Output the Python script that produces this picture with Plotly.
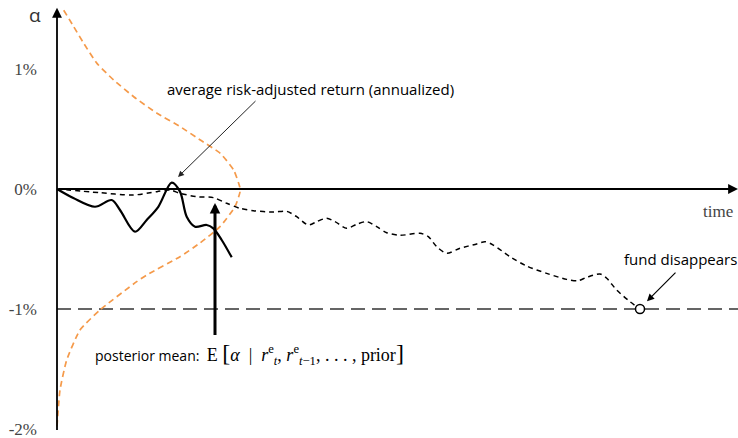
import plotly.graph_objects as go

# Realised average risk-adjusted return (solid, wiggly)
avg_t = [0, 1.63, 3.8, 5.47, 6.3, 7.8, 8.97, 10.13, 11.47, 12.3, 12.97, 13.8, 14.97, 15.63, 16.47, 17.47]
avg_a = [0, -0.075, -0.148, -0.092, -0.175, -0.356, -0.258, -0.148, 0.053, -0.022, -0.231, -0.314, -0.30, -0.328, -0.425, -0.569]

# Posterior mean path (dashed) until the fund disappears
post_t = [0, 4.3, 7.6, 10.0, 11.3, 12.3, 13.97, 15.63, 16.97, 18.3, 19.63, 21.63, 22.97, 23.97, 25.13,
          25.97, 26.97, 27.8, 28.97, 29.97, 30.97, 31.97, 32.97, 34.3, 36.3, 37.13, 37.97, 38.97, 40.3,
          41.97, 42.8, 43.63, 45.3, 46.97, 48.97, 50.97, 52.13, 52.97, 54.3, 54.97, 55.97, 57.3, 58.3]
post_a = [0, -0.031, -0.05, -0.022, -0.008, -0.036, -0.064, -0.072, -0.119, -0.161, -0.181, -0.192, -0.186, -0.231, -0.30,
          -0.272, -0.244, -0.272, -0.328, -0.294, -0.272, -0.314, -0.364, -0.386, -0.369, -0.397, -0.481, -0.536, -0.494,
          -0.458, -0.439, -0.467, -0.564, -0.642, -0.703, -0.753, -0.764, -0.736, -0.708, -0.744, -0.842, -0.939, -1.0]

# Prior density drawn sideways along the alpha axis
prior_dens = [0.67, 1.67, 2.67, 4.0, 5.67, 7.67, 10.0, 12.33, 14.33, 16.33, 17.67, 18.27,
              18.3, 17.8, 16.3, 14.3, 12.3, 8.97, 7.97, 4.3, 2.3, 0.97, 0.3, 0.0]
prior_a = [1.49, 1.353, 1.214, 1.047, 0.908, 0.769, 0.631, 0.519, 0.408, 0.297, 0.158, 0.019,
           -0.025, -0.148, -0.314, -0.45, -0.564, -0.717, -0.772, -1.008, -1.175, -1.425, -1.675, -1.98]

# Survival threshold and axis ticks
threshold = -1.0
tick_vals = [1, 0, -1, -2]
tick_text = ["1%", "0%", "-1%", "-2%"]

x_end = 68.1
y_top = 1.51
y_bot = -2.02

SANS = "Open Sans"
SERIF = "Liberation Serif"
ORANGE = "#F59A4A"

fig = go.Figure()

fig.add_trace(go.Scatter(x=[0, x_end], y=[threshold, threshold], mode="lines",
                         line=dict(color="#333333", width=1.5, dash="14px,7px"),
                         hoverinfo="skip", showlegend=False))
fig.add_trace(go.Scatter(x=prior_dens, y=prior_a, mode="lines",
                         line=dict(color=ORANGE, width=1.7, dash="6px,4px", shape="spline", smoothing=0.5),
                         showlegend=False))
fig.add_trace(go.Scatter(x=post_t, y=post_a, mode="lines",
                         line=dict(color="black", width=1.5, dash="5px,4px", shape="spline", smoothing=0.8),
                         showlegend=False))
fig.add_trace(go.Scatter(x=avg_t, y=avg_a, mode="lines",
                         line=dict(color="black", width=2.2, shape="spline", smoothing=0.9),
                         showlegend=False))
fig.add_trace(go.Scatter(x=[post_t[-1]], y=[threshold], mode="markers",
                         marker=dict(size=9, color="white", line=dict(color="black", width=1.5)),
                         showlegend=False))

ann = []
# axis arrows
ann.append(dict(x=x_end, y=0, ax=0, ay=0, xref="x", yref="y", axref="x", ayref="y", text="",
                showarrow=True, arrowhead=2, arrowsize=1.1, arrowwidth=1.8, arrowcolor="black"))
ann.append(dict(x=0, y=y_top, ax=0, ay=y_bot, xref="x", yref="y", axref="x", ayref="y", text="",
                showarrow=True, arrowhead=2, arrowsize=1.1, arrowwidth=1.8, arrowcolor="black"))
# axis titles
ann.append(dict(x=67.8, y=-0.19, xref="x", yref="y", text="time", showarrow=False, xanchor="right",
                font=dict(family=SERIF, size=17, color="#444444")))
ann.append(dict(x=-0.036, y=1.45, xref="paper", yref="y", text="α", showarrow=False,
                font=dict(family=SANS, size=19, color="#333333")))
# average return label with thin arrow
ann.append(dict(x=12.1, y=0.1, ax=20.0, ay=0.745, xref="x", yref="y", axref="x", ayref="y", text="",
                showarrow=True, arrowhead=2, arrowsize=1.2, arrowwidth=1, arrowcolor="#222222"))
ann.append(dict(x=25.3, y=0.835, xref="x", yref="y", text="average risk-adjusted return (annualized)",
                showarrow=False, font=dict(family=SANS, size=15, color="black")))
# posterior mean arrow and label
ann.append(dict(x=15.8, y=-0.117, ax=15.8, ay=-1.23, xref="x", yref="y", axref="x", ayref="y", text="",
                showarrow=True, arrowhead=2, arrowsize=0.7, arrowwidth=3, arrowcolor="black"))
ann.append(dict(x=3.55, y=-1.375, xref="x", yref="y", xanchor="left",
                text=("posterior mean:&nbsp; "
                      "<span style='font-family:Liberation Serif;font-size:18px'>E&nbsp;"
                      "<span style='font-size:24px'>[</span><i>α</i>&nbsp; |&nbsp; <i>r</i><sup>e</sup><sub><i>t</i></sub>,&nbsp;"
                      "<i>r</i><sup>e</sup><sub><i>t</i>−1</sub>, . . . ,&nbsp;prior"
                      "<span style='font-size:24px'>]</span></span>"),
                showarrow=False, font=dict(family=SANS, size=14, color="black")))
# fund disappears
ann.append(dict(x=59.0, y=-0.935, ax=62.0, ay=-0.685, xref="x", yref="y", axref="x", ayref="y", text="",
                showarrow=True, arrowhead=2, arrowsize=1.2, arrowwidth=1.2, arrowcolor="black"))
ann.append(dict(x=62.3, y=-0.585, xref="x", yref="y", text="fund disappears", showarrow=False,
                font=dict(family=SANS, size=15, color="black")))

fig.update_layout(
    width=738, height=438,
    margin=dict(l=52, r=0, t=0, b=0),
    paper_bgcolor="white", plot_bgcolor="white",
    annotations=ann,
    xaxis=dict(range=[-0.5, x_end], showgrid=False, zeroline=False, showline=False,
               showticklabels=False, ticks=""),
    yaxis=dict(range=[-249 / 120, 189 / 120], showgrid=False, zeroline=False, showline=False,
               tickvals=tick_vals, ticktext=tick_text, ticks="", ticklabelstandoff=14,
               ticklabeloverflow="allow",
               tickfont=dict(family=SERIF, size=17, color="#444444")),
)

fig.write_html("out.html")
